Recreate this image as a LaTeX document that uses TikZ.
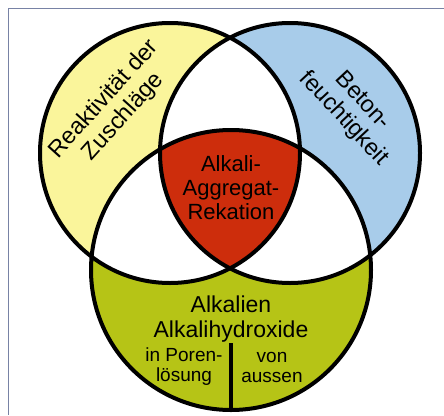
\documentclass[tikz,border=0pt]{standalone}
\usepackage{fontspec}
\setmainfont{Liberation Sans}
\definecolor{gelb}{RGB}{250,245,155}
\definecolor{hellblau}{RGB}{168,204,234}
\definecolor{rot}{RGB}{205,45,12}
\definecolor{gruen}{RGB}{182,196,22}
\definecolor{rahmen}{RGB}{120,130,165}
\tikzset{
  umriss/.style={line width=4pt},
  schrift/.style={font=\fontsize{22}{24}\selectfont, align=center, inner sep=0pt},
  schraeg/.style={font=\fontsize{23.5}{26}\selectfont, align=center, inner sep=0pt},
  klein/.style={font=\fontsize{19}{20}\selectfont, align=center, inner sep=0pt}
}
\begin{document}
\begin{tikzpicture}[x=1pt,y=-1pt]
      \useasboundingbox (0,0) rectangle (444,415);
      \coordinate (L) at (170,153);
      \coordinate (R) at (290,153);
      \coordinate (U) at (231,270);

      % Flaechen
      \fill[gelb] (L) circle[radius=130pt];
      \fill[hellblau] (R) circle[radius=130pt];
      \fill[gruen] (U) circle[radius=140pt];
      \begin{scope}
        \clip (L) circle[radius=130pt];
        \fill[white] (R) circle[radius=130pt];
        \fill[white] (U) circle[radius=140pt];
      \end{scope}
      \begin{scope}
        \clip (R) circle[radius=130pt];
        \fill[white] (U) circle[radius=140pt];
        \clip (L) circle[radius=130pt];
        \fill[rot] (U) circle[radius=140pt];
      \end{scope}

      % Kreise
      \draw[umriss] (L) circle[radius=130pt];
      \draw[umriss] (R) circle[radius=130pt];
      \draw[umriss] (U) circle[radius=140pt];

      % Rahmen
      \draw[rahmen, line width=1pt] (444,8) -- (8,8) -- (8,415);

      \coordinate (teilerA) at (231,343);
      \coordinate (teilerB) at (231,410);
      \draw[umriss] (teilerA) -- (teilerB);

      \node[schraeg, rotate=48] (reaktiv) at (114,108) {Reaktivität der\\Zuschläge};
      \node[schraeg, rotate=-47] (feucht) at (353,110) {Beton-\\feuchtigkeit};
      \node[schrift] (aar) at (231,188) {Alkali-\\Aggregat-\\Rekation};
      \node[schrift, font=\fontsize{23}{25}\selectfont] (alkalien) at (231,319) {Alkalien\\Alkalihydroxide};
      \node[klein] (poren) at (184,367) {in Poren-\\lösung};
      \node[klein] (aussen) at (272,367) {von\\aussen};
\end{tikzpicture}
\end{document}
